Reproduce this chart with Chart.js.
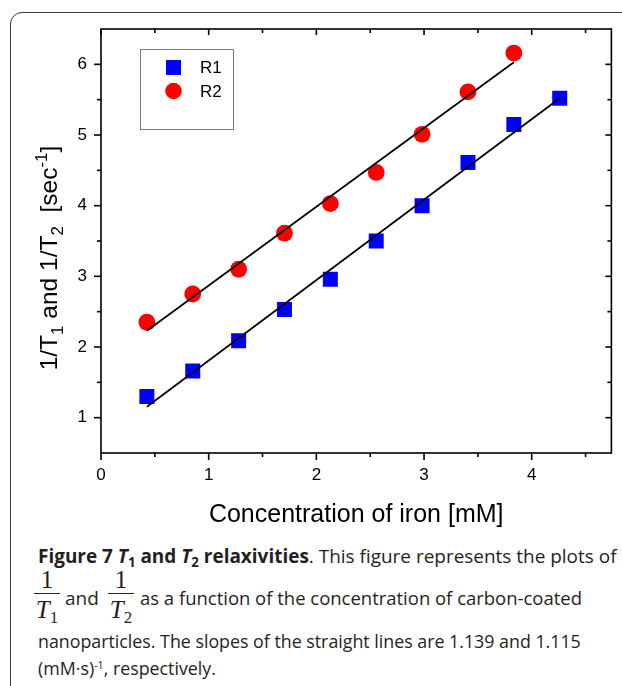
<!DOCTYPE html>
<html>
<head>
<meta charset="utf-8">
<script src="https://cdn.jsdelivr.net/npm/chart.js@4.4.1/dist/chart.umd.min.js"></script>
<style>
  html, body { margin: 0; padding: 0; background: #fff; }
  body { width: 622px; height: 686px; overflow: hidden; position: relative; }
  #frame { position: absolute; left: 10px; top: 12px; width: 720px; height: 800px;
           border: 1.5px solid #3a3a3a; border-radius: 12px; box-sizing: border-box; }
  #myChart { position: absolute; left: 0; top: 0; }
  .cap { position: absolute; left: 38px; white-space: nowrap; font-family: 'Open Sans', sans-serif;
         font-size: 15.5px; line-height: normal; color: #231f20; }
  .cap sub { font-size: 0.7em; vertical-align: -0.3em; line-height: 0; }
  .cap sup { font-size: 0.6em; vertical-align: 0.55em; line-height: 0; }
  .frac { position: absolute; font-family: 'Liberation Serif', serif; font-size: 25px; line-height: 25px;
          text-align: center; color: #231f20; }
  .frac .bar { height: 1.3px; background: #231f20; margin-top: 1px; }
  .frac .den { margin-top: 3px; }
  .frac .den span { font-size: 17px; position: relative; top: 5px; }
</style>
</head>
<body>
<div id="frame"></div>
<canvas id="myChart" width="622" height="540"></canvas>

<div class="cap" data-base="563" data-w="579"><b>Figure 7 <i>T</i><sub>1</sub> and <i>T</i><sub>2</sub> relaxivities</b>. This figure represents the plots of</div>
<div class="frac" style="left:34px; top:567px; width:26px">
  <div>1</div><div class="bar"></div><div class="den"><i>T</i><span>1</span></div>
</div>
<div class="cap" data-base="605" style="left:65px">and</div>
<div class="frac" style="left:108px; top:567px; width:26px">
  <div>1</div><div class="bar"></div><div class="den"><i>T</i><span>2</span></div>
</div>
<div class="cap" data-base="605" data-w="442" style="left:140px">as a function of the concentration of carbon-coated</div>
<div class="cap" data-base="648" data-w="543">nanoparticles. The slopes of the straight lines are 1.139 and 1.115</div>
<div class="cap" data-base="675">(mM&middot;s)<sup>-1</sup>, respectively.</div>

<script>
// concentration of iron [mM]
const concR1 = [0.426, 0.852, 1.278, 1.704, 2.130, 2.556, 2.982, 3.408, 3.834, 4.260];
const concR2 = [0.426, 0.852, 1.278, 1.704, 2.130, 2.556, 2.982, 3.408, 3.834];

// 1/T1 and 1/T2 [sec^-1]
const r1 = [1.30, 1.66, 2.09, 2.53, 2.96, 3.50, 4.00, 4.61, 5.15, 5.52];
const r2 = [2.35, 2.75, 3.10, 3.61, 4.03, 4.47, 5.01, 5.61, 6.16];

// fitted straight lines, end points
const fitR1X = [0.426, 4.260];
const fitR1Y = [1.155, 5.520];
const fitR2X = [0.426, 3.834];
const fitR2Y = [2.230, 6.030];

// axis ticks
const xMajor = [0, 1, 2, 3, 4];
const xMinor = [0.5, 1.5, 2.5, 3.5, 4.5];
const yMajor = [1, 2, 3, 4, 5, 6];
const yMinor = [1.5, 2.5, 3.5, 4.5, 5.5];

// caption: size each line so it spans about the same width as in the figure
let lastSize = 15.5;
document.querySelectorAll('.cap').forEach(el => {
  let size = lastSize;
  if (el.dataset.w) {
    size = 15.5 * (+el.dataset.w) / el.getBoundingClientRect().width;
    lastSize = size;
  }
  el.style.fontSize = size + 'px';
  el.style.top = (+el.dataset.base - 1.069 * size) + 'px';
});

const SANS = "'Liberation Sans', Arial, sans-serif";
Chart.defaults.font.family = SANS;
Chart.defaults.color = '#000';

function toPoints(xs, ys) {
  return xs.map((x, i) => ({ x: x, y: ys[i] }));
}

// draws a run of text pieces (normal / sub / sup) centred on cx,cy
function drawRich(ctx, parts, cx, cy, rotate) {
  ctx.save();
  ctx.translate(cx, cy);
  if (rotate) ctx.rotate(-Math.PI / 2);
  let total = 0;
  parts.forEach(p => { ctx.font = p[1] + 'px ' + SANS; total += ctx.measureText(p[0]).width; });
  let x = -total / 2;
  ctx.textAlign = 'left';
  ctx.textBaseline = 'alphabetic';
  ctx.fillStyle = '#000';
  parts.forEach(p => {
    ctx.font = p[1] + 'px ' + SANS;
    ctx.fillText(p[0], x, p[2]);
    x += ctx.measureText(p[0]).width;
  });
  ctx.restore();
}

const decor = {
  id: 'decor',
  afterDraw(chart) {
    const ctx = chart.ctx;
    const a = chart.chartArea;
    const xs = chart.scales.x, ys = chart.scales.y;
    ctx.save();
    ctx.strokeStyle = '#000';
    ctx.lineWidth = 1.6;
    ctx.strokeRect(a.left, a.top, a.right - a.left, a.bottom - a.top);

    function seg(x1, y1, x2, y2) {
      ctx.beginPath(); ctx.moveTo(x1, y1); ctx.lineTo(x2, y2); ctx.stroke();
    }
    xMajor.forEach(v => { const p = xs.getPixelForValue(v); seg(p, a.bottom, p, a.bottom + 7); seg(p, a.top, p, a.top + 6); });
    xMinor.forEach(v => { const p = xs.getPixelForValue(v); seg(p, a.bottom, p, a.bottom + 4); seg(p, a.top, p, a.top + 4); });
    yMajor.forEach(v => { const p = ys.getPixelForValue(v); seg(a.left, p, a.left - 7, p); seg(a.right, p, a.right - 6, p); });
    yMinor.forEach(v => { const p = ys.getPixelForValue(v); seg(a.left, p, a.left - 4, p); seg(a.right, p, a.right - 4, p); });

    // legend box
    ctx.strokeStyle = '#7a7a7a';
    ctx.lineWidth = 1;
    ctx.strokeRect(140.5, 49.5, 93, 80);
    ctx.fillStyle = '#0000ff';
    ctx.fillRect(166, 60, 15, 15);
    ctx.fillStyle = '#ff0000';
    ctx.beginPath(); ctx.arc(173.5, 91, 8.3, 0, Math.PI * 2); ctx.fill();
    ctx.fillStyle = '#000';
    ctx.font = '17px ' + SANS;
    ctx.textBaseline = 'middle';
    ctx.textAlign = 'left';
    ctx.fillText('R1', 200, 68);
    ctx.fillText('R2', 200, 92);

    // x axis title
    ctx.font = '25px ' + SANS;
    ctx.textAlign = 'center';
    ctx.textBaseline = 'alphabetic';
    ctx.fillText('Concentration of iron [mM]', (a.left + a.right) / 2, 522);
    ctx.restore();

    // y axis title with sub/superscripts
    drawRich(ctx, [
      ['1/T', 24.5, 0], ['1', 17, 6], [' and 1/T', 24.5, 0], ['2', 17, 6],
      ['  [sec', 24.5, 0], ['-1', 17, -10], [']', 24.5, 0]
    ], 57, 258, true);
  }
};

const data = {
  datasets: [
    { label: 'fit R1', data: toPoints(fitR1X, fitR1Y), showLine: true, borderColor: '#000',
      borderWidth: 1.7, pointRadius: 0, order: 0 },
    { label: 'fit R2', data: toPoints(fitR2X, fitR2Y), showLine: true, borderColor: '#000',
      borderWidth: 1.7, pointRadius: 0, order: 0 },
    { label: 'R1', data: toPoints(concR1, r1), pointStyle: 'rect', pointRadius: 10.6,
      backgroundColor: '#0000ff', borderColor: '#0000ff', borderWidth: 0, order: 1 },
    { label: 'R2', data: toPoints(concR2, r2), pointStyle: 'circle', pointRadius: 8.4,
      backgroundColor: '#ff0000', borderColor: '#ff0000', borderWidth: 0, order: 1 }
  ]
};

const config = {
  type: 'scatter',
  data: data,
  options: {
    responsive: false,
    animation: false,
    devicePixelRatio: 1,
    layout: { padding: { top: 29, right: 1, left: 0, bottom: 0 } },
    plugins: { legend: { display: false }, tooltip: { enabled: false } },
    scales: {
      x: {
        type: 'linear', min: 0, max: 4.74,
        afterFit: s => { s.height = 87; },
        afterBuildTicks: s => { s.ticks = xMajor.map(v => ({ value: v })); },
        grid: { display: false, drawTicks: false, tickLength: 0 },
        border: { display: false },
        ticks: { padding: 12, font: { size: 17 }, maxRotation: 0, autoSkip: false }
      },
      y: {
        type: 'linear', min: 0.5, max: 6.5,
        afterFit: s => { s.width = 101; },
        afterBuildTicks: s => { s.ticks = yMajor.map(v => ({ value: v })); },
        grid: { display: false, drawTicks: false, tickLength: 0 },
        border: { display: false },
        ticks: { padding: 14, font: { size: 17 } }
      }
    }
  },
  plugins: [decor]
};

const myChart = new Chart(document.getElementById('myChart'), config);
</script>
</body>
</html>
